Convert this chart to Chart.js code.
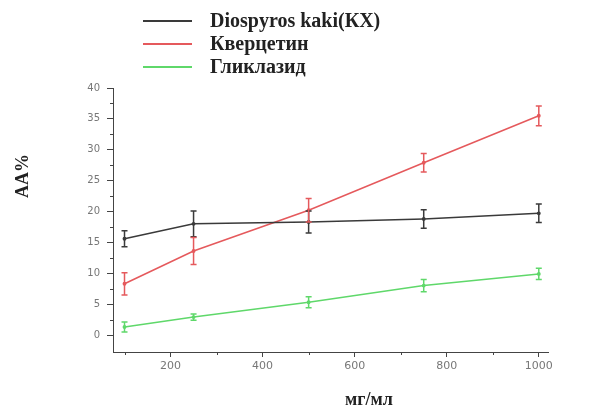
<!DOCTYPE html>
<html>
<head>
<meta charset="utf-8">
<script src="https://cdn.jsdelivr.net/npm/chart.js@4/dist/chart.umd.min.js"></script>
<style>
  html, body { margin: 0; padding: 0; background: #fff; }
  #wrap { width: 589px; height: 410px; }
</style>
</head>
<body>
<div id="wrap"><canvas id="grafica" width="589" height="410"></canvas></div>
<script>
// концентрации, мг/мл
const dosis = [100, 250, 500, 750, 1000];

const seriesNombres = ['Diospyros kaki(КХ)', 'Кверцетин', 'Гликлазид'];
const seriesColores = ['#3a3a3a', '#e5595c', '#5fd86a'];

const kaki = [15.6, 18.0, 18.3, 18.8, 19.7];
const kakiErr = [1.3, 2.1, 1.8, 1.5, 1.5];

const kvercetin = [8.3, 13.6, 20.2, 27.9, 35.5];
const kvercetinErr = [1.8, 2.2, 1.9, 1.5, 1.6];

const gliklazid = [1.3, 2.9, 5.3, 8.0, 9.9];
const gliklazidErr = [0.8, 0.5, 0.9, 1.0, 0.9];

const yTicks = [0, 5, 10, 15, 20, 25, 30, 35, 40];
const xTicks = [200, 400, 600, 800, 1000];

const valores = [kaki, kvercetin, gliklazid];
const errores = [kakiErr, kvercetinErr, gliklazidErr];

// barras de error + ticks menores + leyenda + títulos de ejes
const extras = {
    id: 'extras',
    afterDatasetsDraw(chart) {
        const { ctx, scales: { x, y } } = chart;
        ctx.save();
        chart.data.datasets.forEach((ds, d) => {
            ctx.strokeStyle = ds.borderColor;
            ctx.lineWidth = 1.5;
            dosis.forEach((xv, i) => {
                const px = x.getPixelForValue(xv);
                const top = y.getPixelForValue(valores[d][i] + errores[d][i]);
                const bot = y.getPixelForValue(valores[d][i] - errores[d][i]);
                ctx.beginPath();
                ctx.moveTo(px, top); ctx.lineTo(px, bot);
                ctx.moveTo(px - 3, top); ctx.lineTo(px + 3, top);
                ctx.moveTo(px - 3, bot); ctx.lineTo(px + 3, bot);
                ctx.stroke();
            });
        });
        ctx.restore();
    },
    afterDraw(chart) {
        const { ctx, scales: { x, y }, chartArea } = chart;
        ctx.save();
        ctx.strokeStyle = '#444';
        ctx.lineWidth = 1;
        // ticks menores eje y
        for (let v = 2.5; v < 40; v += 5) {
            const py = Math.round(y.getPixelForValue(v)) + 0.5;
            ctx.beginPath();
            ctx.moveTo(chartArea.left - 3, py); ctx.lineTo(chartArea.left, py);
            ctx.stroke();
        }
        // ticks menores eje x
        for (let v = 100; v < 1000; v += 200) {
            const px = Math.round(x.getPixelForValue(v)) + 0.5;
            ctx.beginPath();
            ctx.moveTo(px, chartArea.bottom); ctx.lineTo(px, chartArea.bottom + 3);
            ctx.stroke();
        }

        // leyenda
        ctx.font = 'bold 20px "Liberation Serif", "Times New Roman", serif';
        ctx.textBaseline = 'middle';
        const filas = [21, 44, 67];
        chart.data.datasets.forEach((ds, d) => {
            ctx.strokeStyle = ds.borderColor;
            ctx.lineWidth = 2;
            ctx.beginPath();
            ctx.moveTo(143, filas[d]); ctx.lineTo(192, filas[d]);
            ctx.stroke();
            ctx.fillStyle = '#222';
            ctx.textAlign = 'left';
            ctx.fillText(ds.label, 210, filas[d] + 1);
        });

        // títulos de ejes
        ctx.font = 'bold 18px "Liberation Serif", "Times New Roman", serif';
        ctx.fillStyle = '#222';
        ctx.textAlign = 'center';
        ctx.fillText('мг/мл', 369, 400);
        ctx.translate(23, 176);
        ctx.rotate(-Math.PI / 2);
        ctx.fillText('AA%', 0, 0);
        ctx.restore();
    }
};

new Chart(document.getElementById('grafica').getContext('2d'), {
    type: 'line',
    data: {
        datasets: seriesNombres.map((nombre, d) => ({
            label: nombre,
            data: dosis.map((xv, i) => ({ x: xv, y: valores[d][i] })),
            borderColor: seriesColores[d],
            backgroundColor: seriesColores[d],
            borderWidth: 1.5,
            pointRadius: 1.2,
            tension: 0,
            fill: false
        }))
    },
    options: {
        responsive: false,
        animation: false,
        layout: { padding: { top: 88, right: 41, bottom: 28, left: 0 } },
        plugins: {
            legend: { display: false },
            tooltip: { enabled: false }
        },
        scales: {
            x: {
                type: 'linear',
                min: 75, max: 1020,
                afterBuildTicks: (s) => { s.ticks = xTicks.map(v => ({ value: v })); },
                afterFit: (s) => { s.height = 30; },
                border: { color: '#444', width: 1 },
                grid: { drawOnChartArea: false, tickLength: 5, color: '#444' },
                ticks: { color: '#777', padding: 3, font: { family: 'DejaVu Sans', size: 11 }, maxRotation: 0,
                    callback: (v) => String(v) }
            },
            y: {
                min: -2.75, max: 40,
                afterBuildTicks: (s) => { s.ticks = yTicks.map(v => ({ value: v })); },
                afterFit: (s) => { s.width = 113; },
                border: { color: '#444', width: 1 },
                grid: { drawOnChartArea: false, tickLength: 6, color: '#444' },
                ticks: { color: '#777', padding: 7, font: { family: 'DejaVu Sans', size: 10 } }
            }
        }
    },
    plugins: [extras]
});
</script>
</body>
</html>
